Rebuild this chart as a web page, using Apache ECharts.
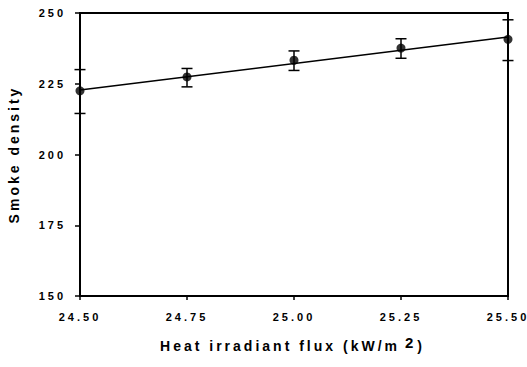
<!DOCTYPE html>
<html>
<head>
<meta charset="utf-8">
<script src="https://cdn.jsdelivr.net/npm/echarts@6/dist/echarts.min.js"></script>
<style>
  html, body { margin: 0; padding: 0; background: #fff; }
  #chart { width: 527px; height: 367px; }
  /* the reference uses widely spaced letters */
  #chart text { letter-spacing: 3px; }
</style>
</head>
<body>
<div id="chart"></div>
<script>
// heat flux (kW/m2) vs smoke density, mean with error bars
var flux = [24.50, 24.75, 25.00, 25.25, 25.50];
var density = [222.5, 227.4, 233.3, 237.6, 240.7];
var errLow = [214.5, 223.9, 229.7, 234.0, 233.2];
var errHigh = [230.0, 230.4, 236.6, 240.9, 247.6];
// linear fit end points
var fitX = [24.50, 25.50];
var fitY = [222.8, 241.5];

var points = flux.map(function (x, i) { return [x, density[i]]; });
var bars = flux.map(function (x, i) { return [x, errLow[i], errHigh[i]]; });
var fitLine = fitX.map(function (x, i) { return [x, fitY[i]]; });

var chart = echarts.init(document.getElementById('chart'), null, { renderer: 'svg' });

var FONT = 'Liberation Sans, Arial, sans-serif';
var labelFont = { color: '#000', fontFamily: FONT, fontWeight: 'bold', fontSize: 11 };

var option = {
    animation: false,
    grid: {
        left: 80,
        right: 19,
        top: 13,
        bottom: 71,
        outerBoundsMode: 'none',
        containLabel: false,
        show: true,
        borderColor: '#000',
        borderWidth: 2
    },
    xAxis: {
        type: 'value',
        min: 24.5,
        max: 25.5,
        interval: 0.25,
        name: '{t|Heat irradiant flux (kW/m}{s|2}{t2|)}',
        nameLocation: 'middle',
        nameGap: 39,
        nameTextStyle: {
            rich: {
                // padding makes room for the css letter spacing
                t: { fontFamily: FONT, fontWeight: 'bold', fontSize: 14, color: '#000', padding: [0, 44, 0, 36] },
                s: { fontFamily: FONT, fontWeight: 'bold', fontSize: 15, color: '#000', verticalAlign: 'bottom', padding: [0, 4, 7, 0] },
                t2: { fontFamily: FONT, fontWeight: 'bold', fontSize: 14, color: '#000', padding: [0, 3, 0, 0] }
            }
        },
        axisLine: { lineStyle: { color: '#000', width: 2 } },
        axisTick: { show: true, length: 4, lineStyle: { color: '#000', width: 1.5 } },
        splitLine: { show: false },
        axisLabel: Object.assign({ margin: 15, formatter: function (v) { return v.toFixed(2); } }, labelFont)
    },
    yAxis: {
        type: 'value',
        min: 150,
        max: 250,
        interval: 25,
        name: 'Smoke density',
        nameLocation: 'middle',
        nameGap: 59,
        nameTextStyle: { fontFamily: FONT, fontWeight: 'bold', fontSize: 14, color: '#000' },
        axisLine: { show: true, lineStyle: { color: '#000', width: 2 } },
        axisTick: { show: true, length: 5, lineStyle: { color: '#000', width: 1.5 } },
        splitLine: { show: false },
        axisLabel: Object.assign({ margin: 14 }, labelFont)
    },
    series: [
        {
            type: 'line',
            data: fitLine,
            showSymbol: false,
            symbol: 'none',
            lineStyle: { color: '#000', width: 1.5 },
            z: 2
        },
        {
            type: 'custom',
            data: bars,
            z: 3,
            renderItem: function (params, api) {
                var x = api.value(0);
                var lo = api.coord([x, api.value(1)]);
                var hi = api.coord([x, api.value(2)]);
                var cap = 5.5;
                var style = { stroke: '#000', lineWidth: 1.5 };
                return {
                    type: 'group',
                    children: [
                        { type: 'line', shape: { x1: lo[0], y1: lo[1], x2: hi[0], y2: hi[1] }, style: style },
                        { type: 'line', shape: { x1: lo[0] - cap, y1: lo[1], x2: lo[0] + cap, y2: lo[1] }, style: style },
                        { type: 'line', shape: { x1: hi[0] - cap, y1: hi[1], x2: hi[0] + cap, y2: hi[1] }, style: style }
                    ]
                };
            }
        },
        {
            type: 'scatter',
            data: points,
            symbol: 'circle',
            symbolSize: 9,
            itemStyle: { color: '#000' },
            z: 4
        }
    ]
};

chart.setOption(option);
</script>
</body>
</html>
